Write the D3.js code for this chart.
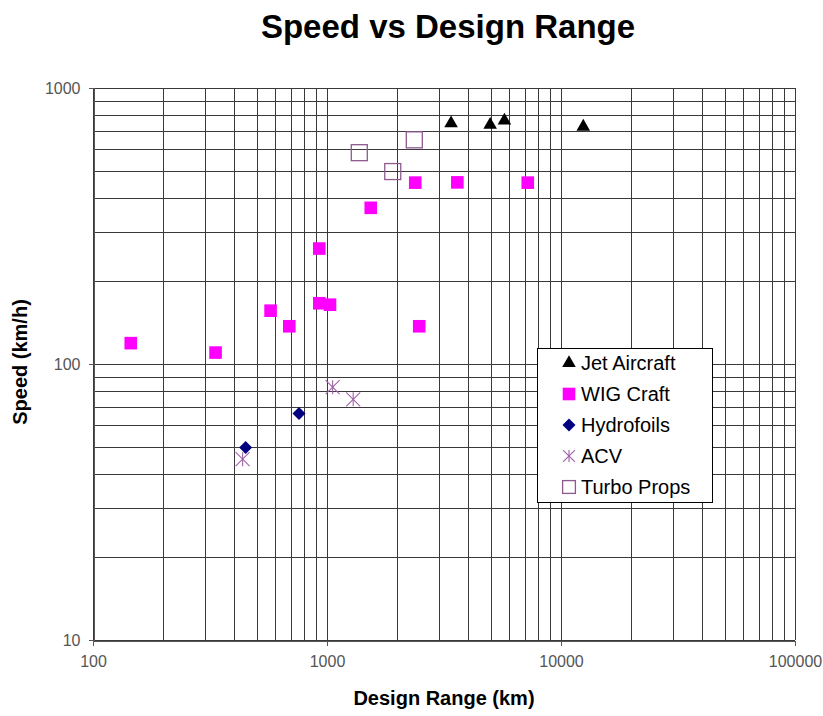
<!DOCTYPE html>
<html>
<head>
<meta charset="utf-8">
<script src="https://cdn.jsdelivr.net/npm/d3@7"></script>
<style>
  html, body { margin: 0; padding: 0; background: #fff; }
  svg { display: block; font-family: "Liberation Sans", Arial, sans-serif; }
</style>
</head>
<body>
<svg id="chart" width="823" height="716"></svg>
<script>
// Design range (km) and cruise speed (km/h) for each craft type
const jetRange = [3390, 4980, 5730, 12450];
const jetSpeed = [745, 735, 762, 724];

const wigRange = [145, 334, 574, 690, 927, 927, 1030, 1538, 2383, 3606, 7210, 2478];
const wigSpeed = [119, 110, 156, 137, 262, 166, 164, 368, 454, 455, 454, 137];

const hydroRange = [449, 759];
const hydroSpeed = [49.8, 66.2];

const acvRange = [436, 1057, 1294];
const acvSpeed = [45.2, 82.4, 74.5];

const turboRange = [1374, 1910, 2361];
const turboSpeed = [583, 498, 649];

const seriesNames = ["Jet Aircraft", "WIG Craft", "Hydrofoils", "ACV", "Turbo Props"];
const xTickLabels = ["100", "1000", "10000", "100000"];
const yTickLabels = ["10", "100", "1000"];

const svg = d3.select("#chart");
const plot = { left: 93, right: 795, top: 88, bottom: 640 };

const x = d3.scaleLog().domain([100, 100000]).range([plot.left, plot.right]);
const y = d3.scaleLog().domain([10, 1000]).range([plot.bottom, plot.top]);

// Gridlines at every 1..9 multiple of each decade
const xGrid = x.ticks();
const yGrid = y.ticks();
const grid = svg.append("g").attr("stroke", "#3a3a3a").attr("stroke-width", 1).attr("shape-rendering", "crispEdges");
grid.selectAll("line.xg").data(xGrid).join("line")
  .attr("x1", d => Math.round(x(d)) + 0.5).attr("x2", d => Math.round(x(d)) + 0.5)
  .attr("y1", plot.top).attr("y2", plot.bottom);
grid.selectAll("line.yg").data(yGrid).join("line")
  .attr("y1", d => Math.round(y(d)) + 0.5).attr("y2", d => Math.round(y(d)) + 0.5)
  .attr("x1", plot.left).attr("x2", plot.right);

// Axes
const xAxis = d3.axisBottom(x).tickValues(xTickLabels.map(Number)).tickFormat(d => String(d)).tickSize(5).tickPadding(10);
const yAxis = d3.axisLeft(y).tickValues(yTickLabels.map(Number)).tickFormat(d => String(d)).tickSize(5).tickPadding(8);

const gx = svg.append("g").attr("transform", `translate(0,${Math.round(y(10)) + 0.5})`).call(xAxis);
const gy = svg.append("g").attr("transform", `translate(${Math.round(x(100)) + 0.5},0)`).call(yAxis);
[gx, gy].forEach(g => {
  g.select(".domain").attr("stroke", "#555").attr("shape-rendering", "crispEdges");
  g.selectAll(".tick line").attr("stroke", "#555").attr("shape-rendering", "crispEdges");
  g.selectAll(".tick text").attr("fill", "#555").attr("font-size", 16)
    .attr("font-family", "'Liberation Sans', Arial, sans-serif");
});

// Marker shapes
const triangle = d3.symbol().type(d3.symbolTriangle).size(80);

function drawMarker(g, kind, cx, cy, scale) {
  const s = scale || 1;
  if (kind === "jet") {
    g.append("path").attr("d", triangle()).attr("transform", `translate(${cx},${cy}) scale(${s})`).attr("fill", "#000");
  } else if (kind === "wig") {
    const h = 6.3 * s;
    g.append("rect").attr("x", cx - h).attr("y", cy - h).attr("width", 2 * h).attr("height", 2 * h).attr("fill", "#FF00FF");
  } else if (kind === "hydro") {
    const h = 6.5 * s;
    g.append("path").attr("d", `M${cx},${cy - h}L${cx + h},${cy}L${cx},${cy + h}L${cx - h},${cy}Z`).attr("fill", "#000080");
  } else if (kind === "acv") {
    const r = 7 * s;
    const st = g.append("g").attr("stroke", "#A060A8").attr("stroke-width", 1.1).attr("fill", "none");
    st.append("line").attr("x1", cx - r).attr("y1", cy - r).attr("x2", cx + r).attr("y2", cy + r);
    st.append("line").attr("x1", cx - r).attr("y1", cy + r).attr("x2", cx + r).attr("y2", cy - r);
    st.append("line").attr("x1", cx).attr("y1", cy - r).attr("x2", cx).attr("y2", cy + r);
  } else if (kind === "turbo") {
    const h = 8 * s;
    g.append("rect").attr("x", cx - h).attr("y", cy - h).attr("width", 2 * h).attr("height", 2 * h)
      .attr("fill", "none").attr("stroke", "#8E5A8E").attr("stroke-width", 1.3);
  }
}

const marks = svg.append("g");
const series = [
  { kind: "jet", xs: jetRange, ys: jetSpeed },
  { kind: "wig", xs: wigRange, ys: wigSpeed },
  { kind: "hydro", xs: hydroRange, ys: hydroSpeed },
  { kind: "acv", xs: acvRange, ys: acvSpeed },
  { kind: "turbo", xs: turboRange, ys: turboSpeed }
];
series.forEach(s => {
  s.xs.forEach((v, i) => drawMarker(marks, s.kind, x(v), y(s.ys[i])));
});

// Legend
const legend = svg.append("g");
legend.append("rect").attr("x", 537.5).attr("y", 348.5).attr("width", 175).attr("height", 154)
  .attr("fill", "#fff").attr("stroke", "#000").attr("stroke-width", 1);
const legendKinds = ["jet", "wig", "hydro", "acv", "turbo"];
seriesNames.forEach((name, i) => {
  const ly = 363 + i * 31;
  const sc = legendKinds[i] === "turbo" ? 0.8 : (legendKinds[i] === "acv" ? 0.85 : 1);
  drawMarker(legend, legendKinds[i], 569, ly, sc);
  legend.append("text").attr("x", 581).attr("y", ly).attr("dy", "0.36em")
    .attr("font-size", 20).attr("fill", "#000").text(name);
});

// Titles
svg.append("text").attr("x", 448).attr("y", 38).attr("text-anchor", "middle")
  .attr("font-size", 33).attr("font-weight", "bold").text("Speed vs Design Range");
svg.append("text").attr("x", 444).attr("y", 705).attr("text-anchor", "middle")
  .attr("font-size", 20).attr("font-weight", "bold").text("Design Range (km)");
svg.append("text").attr("transform", "translate(27,362) rotate(-90)").attr("text-anchor", "middle")
  .attr("font-size", 20).attr("font-weight", "bold").text("Speed (km/h)");
</script>
</body>
</html>
